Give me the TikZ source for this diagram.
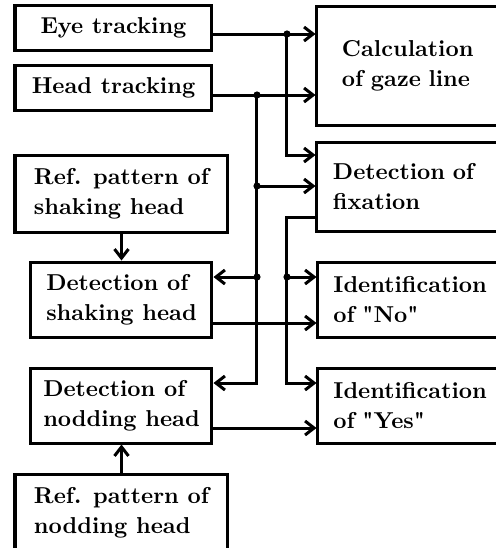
\documentclass[tikz,border=0pt]{standalone}
\usepackage{fontspec}
\setmainfont{lmroman10-regular.otf}[BoldFont=lmroman10-bold.otf]
\usetikzlibrary{arrows.meta}
\begin{document}
\begin{tikzpicture}[x=0.5pt,y=-0.5pt,
  box/.style={draw, line width=1.5pt, inner sep=0pt, rectangle,
    font=\fontsize{11.5}{15}\selectfont\bfseries, align=left},
  leftbox/.style={box, minimum width=98.5pt, minimum height=22.5pt},
  refbox/.style={box, minimum width=106.5pt, minimum height=38.5pt},
  detbox/.style={box, minimum width=90.5pt, minimum height=37.5pt},
  resbox/.style={box, minimum width=97pt, minimum height=37.5pt, text width=81.5pt},
  flow/.style={line width=1.5pt, -{Straight Barb[length=4.5pt,width=7pt]}},
  dot/.style={circle, fill, inner sep=0pt, minimum size=3.6pt}]
\useasboundingbox (0,0) rectangle (496,548);
\clip (0,0) rectangle (496,548);

% input and processing blocks on the left
\node[leftbox] (eye) at (113.5,27.5) {Eye tracking};
\node[leftbox] (head) at (113.5,87.5) {Head tracking};
\node[refbox] (refs) at (121.5,193.5) {Ref. pattern of\\shaking head};
\node[detbox] (shake) at (121.5,299.5) {Detection of\\shaking head};
\node[detbox] (nod) at (121.5,405.5) {Detection of\\nodding head};
\node[refbox] (refn) at (121.5,512.5) {Ref. pattern of\\nodding head};

% result blocks on the right
\node[box, minimum width=97.5pt, minimum height=59.5pt, text width=72.5pt]
  (calc) at (414.5,65.5) {Calculation\\of gaze line};
\node[box, minimum width=97.5pt, minimum height=44.5pt, text width=81.5pt]
  (fix) at (414.5,186.5) {Detection of\\fixation};
\node[resbox] (no) at (415,299.5) {Identification\\of \textquotedbl No\textquotedbl};
\node[resbox] (yes) at (415,405.5) {Identification\\of \textquotedbl Yes\textquotedbl};

% junctions and bends of the signal lines
\coordinate (j1) at (287,34);
\coordinate (j2) at (257,95);
\coordinate (j3) at (257,186);
\coordinate (j4) at (257,277);
\coordinate (j5) at (287,277);
\coordinate (t1) at (287,155);
\coordinate (t2) at (257,383);
\coordinate (t3) at (287,217);
\coordinate (t4) at (287,383);
\coordinate (so) at ([yshift=-11.75pt]shake.east);
\coordinate (nd) at ([yshift=-11.25pt]nod.east);

% connectors
\draw[flow] (eye.east |- j1) -- (calc.west |- j1);
\draw[flow] (head.east |- j2) -- (calc.west |- j2);
\draw[flow] (j1) -- (t1) -- (fix.west |- t1);
\draw[flow] (j2) -- (t2) -- (nod.east |- t2);
\draw[flow] (j3) -- (fix.west |- j3);
\draw[flow] (j4) -- (shake.east |- j4);
\draw[flow] (fix.west |- t3) -- (t3) -- (t4) -- (yes.west |- t4);
\draw[flow] (j5) -- (no.west |- j5);
\draw[flow] (so) -- (no.west |- so);
\draw[flow] (nd) -- (yes.west |- nd);
\draw[flow] (refs.south) -- (shake.north);
\draw[flow] (refn.north) -- (nod.south);

% junction dots
\foreach \j in {j1,j2,j3,j4,j5} \node[dot] at (\j) {};
\end{tikzpicture}
\end{document}
